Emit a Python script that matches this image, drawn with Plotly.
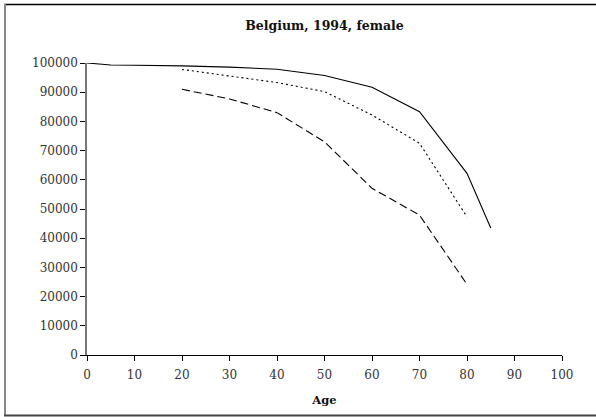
import plotly.graph_objects as go

ages_solid = [0, 5, 10, 15, 20, 30, 40, 50, 60, 70, 80, 85]
vals_solid = [100000, 99300, 99250, 99200, 99000, 98600, 97850, 95700, 91700, 83300, 62200, 43500]

ages_dotted = [20, 30, 40, 50, 60, 70, 80]
vals_dotted = [97800, 95600, 93300, 90200, 82200, 72500, 47300]

ages_dashed = [20, 30, 40, 50, 60, 70, 80]
vals_dashed = [91000, 87700, 83000, 73000, 57100, 47900, 24200]

x_ticks = [0, 10, 20, 30, 40, 50, 60, 70, 80, 90, 100]
y_ticks = [0, 10000, 20000, 30000, 40000, 50000, 60000, 70000, 80000, 90000, 100000]

font_family = "DejaVu Serif, Liberation Serif, serif"

fig = go.Figure()
fig.add_trace(go.Scatter(x=ages_solid, y=vals_solid, mode="lines",
                         line=dict(color="black", width=1.1, dash="solid"), showlegend=False))
fig.add_trace(go.Scatter(x=ages_dotted, y=vals_dotted, mode="lines",
                         line=dict(color="black", width=1.1, dash="2px,3px"), showlegend=False))
fig.add_trace(go.Scatter(x=ages_dashed, y=vals_dashed, mode="lines",
                         line=dict(color="black", width=1.1, dash="8px,4px"), showlegend=False))

fig.update_layout(
    width=596, height=417,
    margin=dict(l=87, r=34, t=63, b=62),
    paper_bgcolor="white", plot_bgcolor="white",
    font=dict(family=font_family, size=12, color="#333"),
    title=dict(text="<b>Belgium, 1994, female</b>", x=0.5, xref="paper", xanchor="center",
               y=1 - 26 / 417, yanchor="middle", font=dict(size=12.5, color="#111")),
    xaxis=dict(range=[0, 100], tickvals=x_ticks, ticktext=[str(v) for v in x_ticks],
               showgrid=False, zeroline=False, showline=True, linecolor="black", linewidth=1,
               ticks="outside", ticklen=5, tickcolor="black", tickwidth=1,
               tickfont=dict(size=12), fixedrange=True, ticklabelstandoff=4,
               title=dict(text="<b>Age</b>", font=dict(size=11.5, color="#111"), standoff=14)),
    yaxis=dict(range=[0, 100000], tickvals=y_ticks, ticktext=[str(v) for v in y_ticks],
               showgrid=False, zeroline=False, showline=True, linecolor="#777", linewidth=1.5,
               ticks="outside", ticklen=5, tickcolor="black", tickwidth=1,
               tickfont=dict(size=12), fixedrange=True),
)

# outer frame (top, left, bottom), right side runs off the page
W, H = 596, 417
pw, ph = W - 87 - 34, H - 63 - 62
def px(x):
    return (x - 87) / pw
def py(y):
    return (H - 62 - y) / ph

fig.add_shape(type="line", xref="paper", yref="paper", x0=px(4), x1=px(596), y0=py(4.5), y1=py(4.5),
              line=dict(color="black", width=1.5))
fig.add_shape(type="line", xref="paper", yref="paper", x0=px(5), x1=px(5), y0=py(4), y1=py(416),
              line=dict(color="#888", width=2))
fig.add_shape(type="line", xref="paper", yref="paper", x0=px(4), x1=px(596), y0=py(415.5), y1=py(415.5),
              line=dict(color="#444", width=2))

fig.write_html(
    "out.html",
    config={"displayModeBar": False},
    post_script="document.body.style.margin='0';document.body.style.overflow='hidden';"
                "document.documentElement.style.overflow='hidden';",
)
